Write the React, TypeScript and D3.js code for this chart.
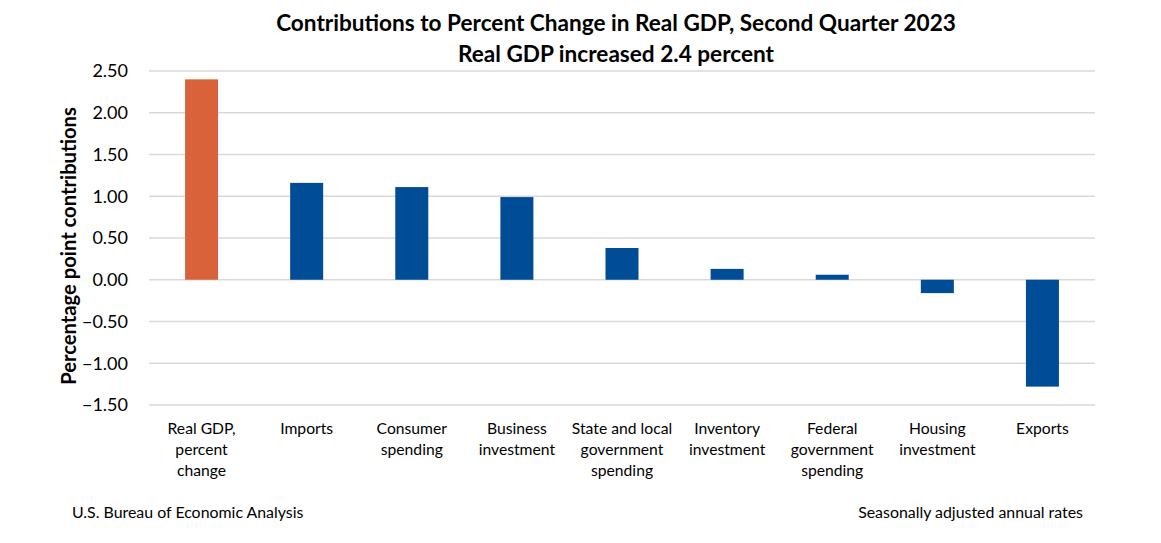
import React from "react";
import * as d3 from "d3";

const categories: string[][] = [
  ["Real GDP,", "percent", "change"],
  ["Imports"],
  ["Consumer", "spending"],
  ["Business", "investment"],
  ["State and local", "government", "spending"],
  ["Inventory", "investment"],
  ["Federal", "government", "spending"],
  ["Housing", "investment"],
  ["Exports"],
];
const values: number[] = [2.4, 1.16, 1.11, 0.99, 0.38, 0.13, 0.06, -0.16, -1.28];
const yTicks: number[] = [2.5, 2.0, 1.5, 1.0, 0.5, 0.0, -0.5, -1.0, -1.5];
const titleLines = [
  "Contributions to Percent Change in Real GDP, Second Quarter 2023",
  "Real GDP increased 2.4 percent",
];
const yTitle = "Percentage point contributions";
const sourceNote = "U.S. Bureau of Economic Analysis";
const rateNote = "Seasonally adjusted annual rates";

const W = 1161;
const H = 543;
const FONT = "Lato, 'Open Sans', sans-serif";

export default function App() {
  const left = 149;
  const right = 1095;
  const y = d3.scaleLinear().domain([-1.5, 2.5]).range([405, 71]);
  const x = d3
    .scaleBand<number>()
    .domain(d3.range(categories.length))
    .range([left, right])
    .paddingInner(0.686)
    .paddingOuter(0.343);
  const fmt = d3.format(".2f");

  return (
    <svg
      width={W}
      height={H}
      style={{ position: "absolute", left: 0, top: 0, background: "#fff" }}
      fontFamily={FONT}
    >
      <rect width={W} height={H} fill="#fff" />
      {titleLines.map((t, i) => (
        <text
          key={i}
          x={616}
          y={31 + i * 31}
          textAnchor="middle"
          fontSize={22.6}
          fontWeight="bold"
          fill="#000"
        >
          {t}
        </text>
      ))}
      {yTicks.map((t) => (
        <g key={t}>
          <line
            x1={left}
            x2={right}
            y1={y(t)}
            y2={y(t)}
            stroke="#d9d9d9"
            strokeWidth={1.5}
          />
          <text
            x={128}
            y={y(t)}
            dy="0.35em"
            textAnchor="end"
            fontSize={18}
            fill="#000"
          >
            {fmt(t)}
          </text>
        </g>
      ))}
      {values.map((v, i) => (
        <rect
          key={i}
          x={x(i)}
          width={x.bandwidth()}
          y={y(Math.max(0, v))}
          height={Math.abs(y(v) - y(0))}
          fill={i === 0 ? "#D9623B" : "#004C97"}
        />
      ))}
      {categories.map((lines, i) => (
        <text
          key={i}
          x={(x(i) as number) + x.bandwidth() / 2}
          y={434}
          textAnchor="middle"
          fontSize={15.7}
          fill="#000"
        >
          {lines.map((l, j) => (
            <tspan key={j} x={(x(i) as number) + x.bandwidth() / 2} dy={j === 0 ? 0 : 21}>
              {l}
            </tspan>
          ))}
        </text>
      ))}
      <text
        transform={`translate(76,246) rotate(-90)`}
        textAnchor="middle"
        fontSize={20.2}
        fontWeight="bold"
        fill="#000"
      >
        {yTitle}
      </text>
      <text x={72} y={518} fontSize={15.9} fill="#000">
        {sourceNote}
      </text>
      <text x={1083} y={518} fontSize={15.9} textAnchor="end" fill="#000">
        {rateNote}
      </text>
    </svg>
  );
}
